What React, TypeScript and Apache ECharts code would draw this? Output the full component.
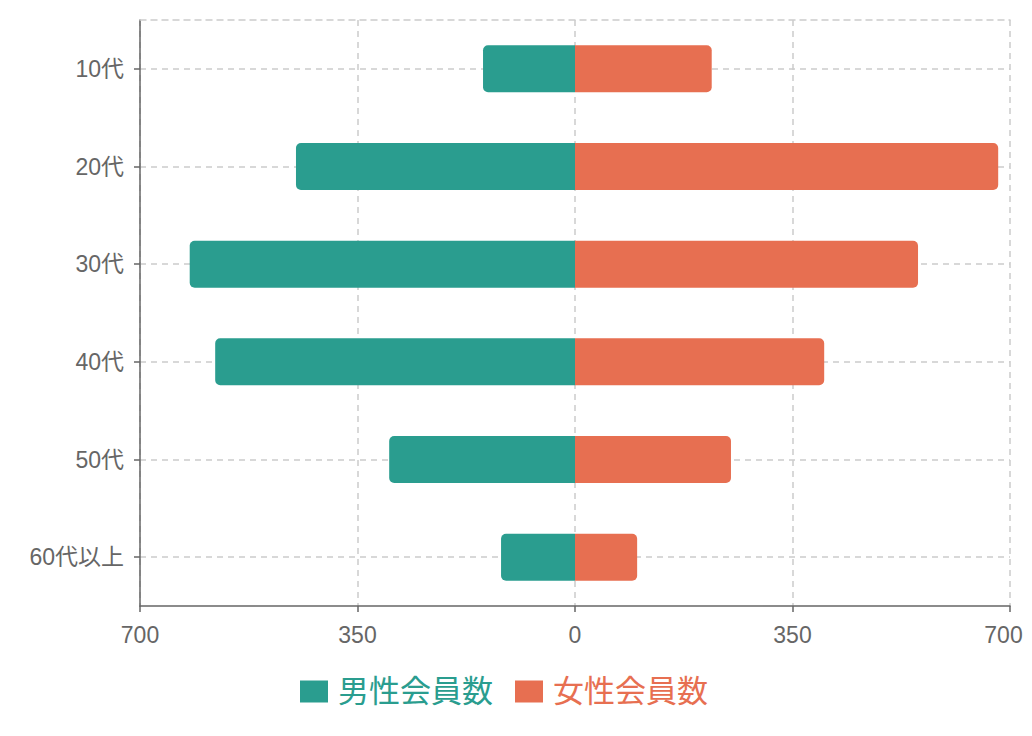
import React, { useEffect, useRef } from "react";
import * as echarts from "echarts";

const categories = ["10代", "20代", "30代", "40代", "50代", "60代以上"];
const maleValues = [148, 449, 620, 579, 299, 119];
const femaleValues = [220, 681, 552, 401, 251, 100];
const maleName = "男性会員数";
const femaleName = "女性会員数";
const maleColor = "#2a9d8f";
const femaleColor = "#e76f51";

export default function App() {
  const ref = useRef<HTMLDivElement>(null);
  useEffect(() => {
    if (!ref.current) return;
    const chart = echarts.init(ref.current, undefined, { renderer: "svg" });
    const font = "'Liberation Sans', Arial, 'Noto Sans CJK JP', sans-serif";
    const dashed = { color: "#cccccc", type: [6, 5] as any, width: 1.5 };
    chart.setOption({
      animation: false,
      textStyle: { fontFamily: font },
      grid: {
        left: 132,
        right: 14,
        top: 12,
        bottom: 122,
        containLabel: false,
        outerBoundsMode: "none",
      },
      legend: {
        bottom: 16,
        left: 287,
        icon: "rect",
        itemWidth: 28,
        itemHeight: 22,
        itemGap: 22,
        textStyle: { fontSize: 31, fontFamily: font, padding: [0, 0, 0, 5] },
        data: [
          { name: maleName, textStyle: { color: maleColor } },
          { name: femaleName, textStyle: { color: femaleColor } },
        ],
      },
      xAxis: [
        {
          type: "value",
          min: -700,
          max: 700,
          interval: 350,
          axisLine: { show: true, lineStyle: { color: "#666", width: 1.5 } },
          axisTick: { show: true, length: 6, lineStyle: { color: "#666", width: 1.5 } },
          axisLabel: {
            color: "#666",
            fontSize: 23,
            margin: 17,
            formatter: (v: number) =>
              v === 700 ? "{r|" + Math.abs(v) + "}" : String(Math.abs(v)),
            rich: {
              r: { color: "#666", fontSize: 23, fontFamily: font, padding: [0, 13, 0, 0] },
            },
          },
          splitLine: { show: true, lineStyle: dashed },
        },
        {
          type: "value",
          position: "top",
          min: -700,
          max: 700,
          interval: 350,
          axisLine: { show: true, onZero: false, lineStyle: dashed },
          axisTick: { show: false },
          axisLabel: { show: false },
          splitLine: { show: false },
        },
      ],
      yAxis: {
        type: "category",
        inverse: true,
        data: categories,
        axisLine: { show: true, onZero: false, lineStyle: { color: "#666", width: 1.5 } },
        axisTick: { show: true, alignWithLabel: true, length: 6, lineStyle: { color: "#666", width: 1.5 } },
        axisLabel: { color: "#666", fontSize: 23, margin: 16 },
        splitLine: { show: true, alignWithLabel: true, lineStyle: dashed },
      },
      series: [
        {
          name: maleName,
          type: "bar",
          stack: "total",
          barWidth: 47,
          itemStyle: { color: maleColor, borderRadius: [5, 0, 0, 5] },
          data: maleValues.map((v) => -v),
        },
        {
          name: femaleName,
          type: "bar",
          stack: "total",
          barWidth: 47,
          itemStyle: { color: femaleColor, borderRadius: [0, 5, 5, 0] },
          data: femaleValues,
        },
      ],
    });
    return () => chart.dispose();
  }, []);
  return <div ref={ref} style={{ width: 1016, height: 720 }} />;
}
